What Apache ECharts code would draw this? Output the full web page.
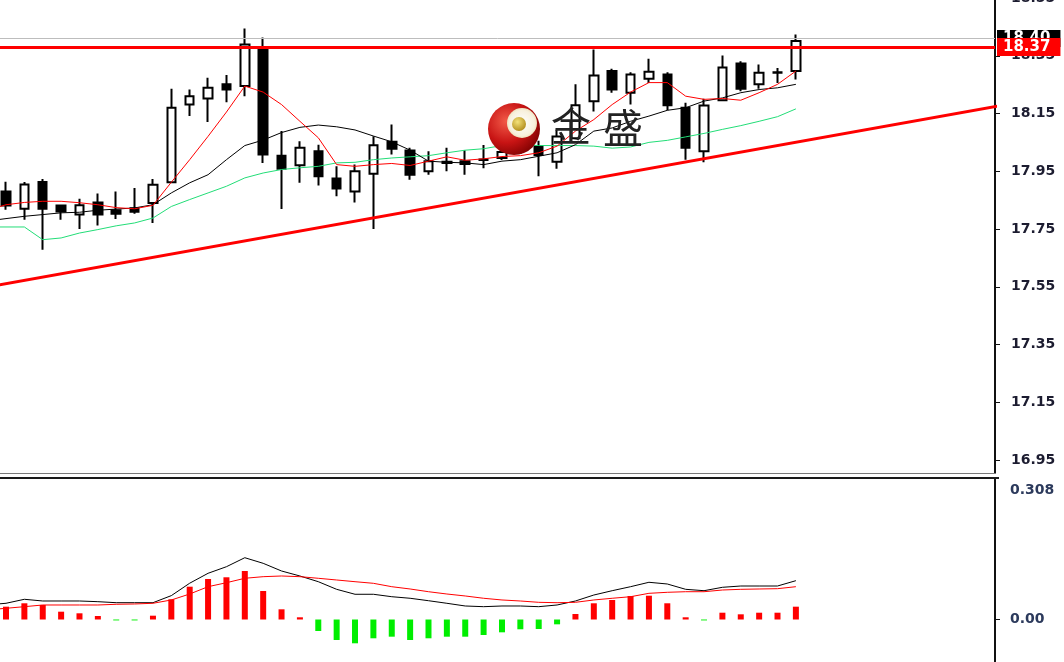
<!DOCTYPE html>
<html><head><meta charset="utf-8">
<script src="https://cdn.jsdelivr.net/npm/echarts@6/dist/echarts.min.js"></script>
<style>html,body{margin:0;padding:0;background:#fff;overflow:hidden}#c{width:1064px;height:662px}</style>
</head><body><div id="c"></div>
<script>
// ---- candles (index 0..43) ----
const candleOpen  = [17.880,17.820,17.913,17.831,17.800,17.842,17.815,17.822,17.840,17.912,18.181,18.202,18.251,18.245,18.372,18.004,17.971,18.019,17.925,17.880,17.941,18.052,18.022,17.950,17.983,17.985,17.991,17.996,18.020,18.037,17.983,18.064,18.192,18.297,18.222,18.270,18.285,18.170,18.019,18.196,18.323,18.251,18.291,18.297];
const candleClose = [17.831,17.904,17.820,17.811,17.832,17.800,17.803,17.810,17.903,18.170,18.210,18.239,18.233,18.389,18.008,17.959,18.031,17.933,17.890,17.950,18.040,18.028,17.938,17.985,17.979,17.975,17.989,18.017,18.035,18.006,18.070,18.179,18.282,18.233,18.285,18.295,18.179,18.031,18.178,18.309,18.236,18.291,18.293,18.401];
const candleLow   = [17.817,17.782,17.678,17.782,17.750,17.762,17.785,17.803,17.771,17.910,18.141,18.121,18.189,18.210,17.979,17.819,17.910,17.901,17.863,17.842,17.750,18.008,17.921,17.938,17.950,17.938,17.960,17.989,18.010,17.933,17.959,18.060,18.157,18.222,18.181,18.256,18.161,17.990,17.981,18.193,18.227,18.236,18.256,18.268];
const candleHigh  = [17.914,17.913,17.923,17.834,17.855,17.873,17.880,17.892,17.923,18.236,18.233,18.274,18.283,18.444,18.413,18.089,18.054,18.042,17.967,17.973,18.071,18.112,18.031,18.019,18.031,18.023,18.041,18.041,18.060,18.056,18.094,18.251,18.372,18.305,18.293,18.340,18.293,18.187,18.201,18.351,18.331,18.320,18.308,18.424];

// ---- moving averages (first value sits at index -1, off the left edge) ----
const maStart = -1;
const maRed   = [17.815,17.834,17.842,17.846,17.846,17.841,17.834,17.824,17.820,17.832,17.912,17.990,18.071,18.155,18.245,18.224,18.181,18.123,18.066,17.973,17.967,17.973,17.977,17.970,17.985,18.000,17.988,17.993,18.001,18.004,18.014,18.037,18.089,18.129,18.181,18.224,18.257,18.257,18.210,18.199,18.202,18.196,18.222,18.251,18.297];
const maBlack = [17.778,17.786,17.794,17.800,17.806,17.808,17.815,17.819,17.823,17.834,17.875,17.910,17.938,17.990,18.039,18.058,18.084,18.102,18.110,18.104,18.093,18.072,18.052,18.023,17.985,17.981,17.979,17.973,17.985,17.990,18.002,18.014,18.042,18.089,18.100,18.123,18.141,18.161,18.170,18.193,18.204,18.222,18.233,18.239,18.251];
const maGreen = [17.757,17.757,17.757,17.713,17.719,17.736,17.748,17.761,17.771,17.788,17.828,17.852,17.875,17.898,17.927,17.944,17.956,17.962,17.967,17.979,17.981,17.990,17.996,18.000,18.004,18.014,18.023,18.028,18.039,18.042,18.039,18.039,18.039,18.037,18.030,18.034,18.050,18.057,18.069,18.081,18.095,18.108,18.123,18.139,18.166];

// ---- drawn levels ----
const trendIdx = [-1, 55];
const trendVal = [17.549, 18.187];
const levelRed = 18.375, levelRedLabel = '18.37';
const levelGray = 18.405, levelGrayLabel = '18.40';

// ---- MACD panel ----
const macdHist = [0.0279,0.0353,0.0316,0.0170,0.0135,0.0076,-0.002,-0.002,0.0083,0.044,0.0714,0.0882,0.0919,0.1056,0.062,0.0222,0.0048,-0.025,-0.0446,-0.0518,-0.0409,-0.0374,-0.0446,-0.0409,-0.0374,-0.0374,-0.0337,-0.0279,-0.0213,-0.0207,-0.0105,0.012,0.0353,0.0425,0.0512,0.0518,0.0353,0.0048,-0.002,0.0148,0.0113,0.0148,0.0148,0.0279];
const macdLine = [0.032,0.0353,0.044,0.0403,0.0403,0.0403,0.0388,0.0366,0.0366,0.0366,0.052,0.079,0.1006,0.1149,0.1345,0.1223,0.1056,0.0947,0.0823,0.0657,0.0549,0.0549,0.0496,0.0462,0.0409,0.0353,0.0294,0.0279,0.0294,0.0294,0.0279,0.0316,0.0403,0.0533,0.0627,0.0714,0.081,0.0773,0.0657,0.0627,0.0701,0.0729,0.0729,0.0729,0.0845];
const macdSignal = [0.021,0.0244,0.0279,0.0316,0.0316,0.0316,0.0316,0.0331,0.0338,0.0353,0.0425,0.0555,0.0714,0.0801,0.0897,0.0932,0.0947,0.0932,0.0897,0.086,0.0823,0.0788,0.0714,0.0664,0.0605,0.0555,0.0512,0.0462,0.0425,0.0403,0.0374,0.0366,0.0374,0.0425,0.0462,0.0496,0.057,0.0592,0.0605,0.0605,0.0642,0.0657,0.0664,0.0671,0.0714];

// ---- axis labels ----
const priceTicks = [16.95,17.15,17.35,17.55,17.75,17.95,18.15,18.35,18.55];
const macdLabelTicks = [0, 0.308];
const macdTickMarks = [0];

const chart = echarts.init(document.getElementById('c'), null, {renderer: 'canvas'});
const candleData = candleOpen.map((o, i) => [i, o, candleClose[i], candleLow[i], candleHigh[i]]);
const pairs = (arr, start) => arr.map((v, k) => [start + k, v]);
const histData = macdHist.map((v, i) => [i, v]);

const axisFont = {fontFamily: 'DejaVu Sans', fontWeight: 'bold', fontSize: 14};
const xRange = {min: -0.327, max: 53.84};

chart.setOption({
  animation: false,
  backgroundColor: '#ffffff',
  grid: [
    {left: 0, right: 69, top: -2, bottom: 189, show: false, outerBoundsMode: 'none', containLabel: false},
    {left: 0, right: 69, top: 478, bottom: 0, show: false, outerBoundsMode: 'none', containLabel: false}
  ],
  xAxis: [
    Object.assign({type: 'value', gridIndex: 0, show: false}, xRange),
    Object.assign({type: 'value', gridIndex: 1, show: false}, xRange)
  ],
  yAxis: [
    {
      type: 'value', gridIndex: 0, position: 'right', min: 16.905, max: 18.55,
      splitLine: {show: false},
      axisLine: {show: true, onZero: false, lineStyle: {color: '#111', width: 2}},
      axisTick: {show: true, length: 5, customValues: priceTicks, lineStyle: {color: '#111', width: 1}},
      axisLabel: Object.assign({show: true, margin: 16, color: '#1c1c30', customValues: priceTicks,
        formatter: v => v.toFixed(2)}, axisFont)
    },
    {
      type: 'value', gridIndex: 1, position: 'right', min: -0.0925, max: 0.308,
      splitLine: {show: false},
      axisLine: {show: true, onZero: false, lineStyle: {color: '#111', width: 2}},
      axisTick: {show: true, length: 5, customValues: macdTickMarks, lineStyle: {color: '#111', width: 1}},
      axisLabel: Object.assign({show: true, margin: 15, color: '#2c3a5c', customValues: macdLabelTicks,
        formatter: v => v === 0 ? '{n|0.00}' : '{t|' + v.toFixed(3) + '}',
        rich: {
          n: Object.assign({color: '#2c3a5c'}, axisFont),
          t: Object.assign({color: '#2c3a5c', padding: [24, 0, 0, 0]}, axisFont)
        }}, axisFont)
    }
  ],
  series: [
    {
      type: 'line', xAxisIndex: 0, yAxisIndex: 0, data: [], silent: true,
      markLine: {
        symbol: 'none', silent: true,
        lineStyle: {color: '#bdbdbd', width: 1, type: 'solid'},
        label: {show: true, position: 'end', distance: 2, formatter: levelGrayLabel,
          backgroundColor: '#000', color: '#fff', padding: [1, 10, 1, 6],
          fontFamily: 'DejaVu Sans', fontWeight: 'bold', fontSize: 15},
        data: [{yAxis: levelGray}]
      }
    },
    {
      type: 'line', xAxisIndex: 0, yAxisIndex: 0, data: pairs(maGreen, maStart),
      showSymbol: false, silent: true, lineStyle: {color: '#22dd77', width: 1}
    },
    {
      type: 'line', xAxisIndex: 0, yAxisIndex: 0, data: pairs(maBlack, maStart),
      showSymbol: false, silent: true, lineStyle: {color: '#000', width: 1}
    },
    {
      type: 'candlestick', xAxisIndex: 0, yAxisIndex: 0, data: candleData,
      encode: {x: 0, y: [1, 2, 3, 4]}, barWidth: 9, silent: true,
      itemStyle: {color: '#ffffff', color0: '#000000', borderColor: '#000000', borderColor0: '#000000',
        borderColorDoji: '#000000', borderWidth: 2}
    },
    {
      type: 'line', xAxisIndex: 0, yAxisIndex: 0, data: pairs(maRed, maStart),
      showSymbol: false, silent: true, lineStyle: {color: '#ff0000', width: 1}
    },
    {
      type: 'line', xAxisIndex: 0, yAxisIndex: 0, data: trendIdx.map((x, k) => [x, trendVal[k]]),
      showSymbol: false, silent: true, lineStyle: {color: '#ff0000', width: 3}
    },
    {
      type: 'line', xAxisIndex: 0, yAxisIndex: 0, data: [], silent: true, z: 5,
      markLine: {
        symbol: 'none', silent: true,
        lineStyle: {color: '#ff0000', width: 3, type: 'solid'},
        label: {show: true, position: 'end', distance: 2, formatter: levelRedLabel,
          backgroundColor: '#ff0000', color: '#fff', padding: [2, 10, 1, 6],
          fontFamily: 'DejaVu Sans', fontWeight: 'bold', fontSize: 15},
        data: [{yAxis: levelRed}]
      }
    },
    {
      type: 'bar', xAxisIndex: 1, yAxisIndex: 1, data: histData, barWidth: 6, silent: true,
      itemStyle: {color: p => p.value[1] >= 0 ? '#ff0000' : '#00ee00'}
    },
    {
      type: 'line', xAxisIndex: 1, yAxisIndex: 1, data: pairs(macdLine, maStart),
      showSymbol: false, silent: true, lineStyle: {color: '#000', width: 1}
    },
    {
      type: 'line', xAxisIndex: 1, yAxisIndex: 1, data: pairs(macdSignal, maStart),
      showSymbol: false, silent: true, lineStyle: {color: '#ff0000', width: 1}
    }
  ],
  graphic: [
    {type: 'rect', z: 100, shape: {x: 0, y: 473, width: 996, height: 1}, style: {fill: '#7a7a7a'}},
    {type: 'rect', z: 100, shape: {x: 0, y: 477, width: 999, height: 2}, style: {fill: '#1a1a1a'}},
    {type: 'circle', z: 100, shape: {cx: 514, cy: 129, r: 26},
      style: {fill: new echarts.graphic.RadialGradient(0.35, 0.35, 0.75, [
        {offset: 0, color: '#f25a48'}, {offset: 0.55, color: '#c81414'}, {offset: 1, color: '#7a0000'}])}},
    {type: 'circle', z: 101, shape: {cx: 522, cy: 123, r: 15},
      style: {fill: new echarts.graphic.RadialGradient(0.5, 0.5, 0.6, [
        {offset: 0, color: '#ffffff'}, {offset: 0.7, color: '#f7f0dc'}, {offset: 1, color: '#e4cf98'}])}},
    {type: 'circle', z: 102, shape: {cx: 519, cy: 124, r: 7},
      style: {fill: new echarts.graphic.RadialGradient(0.4, 0.35, 0.7, [
        {offset: 0, color: '#f4e27a'}, {offset: 1, color: '#b08a18'}])}},
    {type: 'text', z: 103, x: 551, y: 126,
      style: {text: '金', fill: '#222222', font: '40px "Noto Sans CJK SC"', verticalAlign: 'middle'}},
    {type: 'text', z: 103, x: 603, y: 128,
      style: {text: '盛', fill: '#222222', font: '40px "Noto Sans CJK SC"', verticalAlign: 'middle'}}
  ]
});
</script>
</body></html>
